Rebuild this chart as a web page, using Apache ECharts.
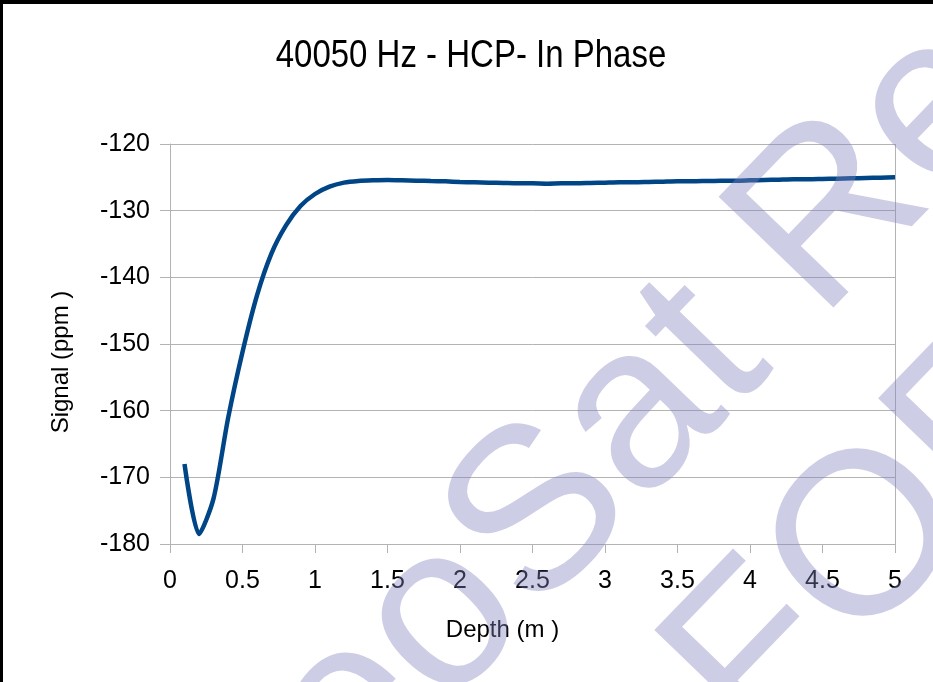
<!DOCTYPE html>
<html>
<head>
<meta charset="utf-8">
<script src="https://cdn.jsdelivr.net/npm/echarts@6/dist/echarts.min.js"></script>
<style>
  html, body { margin: 0; padding: 0; background: #fff; }
  #chart { width: 933px; height: 682px; }
</style>
</head>
<body>
<div id="chart"></div>
<script>
// depth (m) and in-phase signal (ppm)
var depth = [0.1, 0.2, 0.3, 0.4, 0.5, 0.6, 0.7, 0.8, 0.9, 1.0,
  1.1, 1.2, 1.3, 1.4, 1.5, 1.6, 1.7, 1.8, 1.9, 2.0,
  2.1, 2.2, 2.3, 2.4, 2.5, 2.6, 2.7, 2.8, 2.9, 3.0,
  3.1, 3.2, 3.3, 3.4, 3.5, 3.6, 3.7, 3.8, 3.9, 4.0,
  4.1, 4.2, 4.3, 4.4, 4.5, 4.6, 4.7, 4.8, 4.9, 5.0]
var signal = [-168.0, -178.5, -173.2, -161.2, -151.2, -142.7, -136.4, -132.2, -129.3, -127.5,
  -126.4, -125.8, -125.55, -125.45, -125.4, -125.45, -125.5, -125.55, -125.6, -125.7,
  -125.75, -125.8, -125.85, -125.9, -125.9, -125.95, -125.9, -125.9, -125.85, -125.8,
  -125.75, -125.75, -125.7, -125.65, -125.6, -125.6, -125.55, -125.5, -125.5, -125.45,
  -125.4, -125.35, -125.3, -125.3, -125.25, -125.2, -125.15, -125.1, -125.05, -125.0]
var titleText = '40050 Hz - HCP- In Phase'
var xName = 'Depth (m )'
var yName = 'Signal (ppm )'
var watermark = ['GeoSat Re', 'FOR REVIEW']

var chart = echarts.init(document.getElementById('chart'))
var gridColor = '#b3b3b3'
var font = 'Liberation Sans, Arial, sans-serif'
var wmFill = 'rgba(130,130,190,0.4)'
var wmAngle = 46 * Math.PI / 180
var wmFont = '232px Liberation Sans'

chart.setOption({
  backgroundColor: '#fff',
  animation: false,
  grid: {
    left: 170,
    right: 38,
    top: 144,
    bottom: 138
  },
  xAxis: {
    type: 'value',
    min: 0,
    max: 5,
    interval: 0.5,
    name: xName,
    nameLocation: 'middle',
    nameGap: 74,
    nameTextStyle: { fontFamily: font, fontSize: 24, color: '#000', padding: [0, 60, 0, 0] },
    axisLine: { show: true, lineStyle: { color: gridColor, width: 1 } },
    axisTick: { show: true, length: 9, lineStyle: { color: gridColor } },
    axisLabel: { margin: 25, fontFamily: font, fontSize: 25, color: '#000' },
    splitLine: { show: false }
  },
  yAxis: {
    type: 'value',
    min: -180,
    max: -120,
    interval: 10,
    name: yName,
    nameLocation: 'middle',
    nameGap: 97,
    nameTextStyle: { fontFamily: font, fontSize: 24, color: '#000', padding: [0, 36, 0, 0] },
    axisLine: { show: true, lineStyle: { color: gridColor, width: 1 } },
    axisTick: { show: true, length: 10, lineStyle: { color: gridColor } },
    axisLabel: { margin: 20, fontFamily: font, fontSize: 25, color: '#000' },
    splitLine: { show: true, lineStyle: { color: gridColor, width: 1 } }
  },
  series: [{
    type: 'line',
    data: depth.map(function (d, i) { return [d, signal[i]] }),
    smooth: 0.25,
    showSymbol: false,
    lineStyle: { color: '#004586', width: 4.5 },
    z: 3
  }],
  graphic: [
    // title, a bit condensed like the original
    {
      type: 'text',
      x: 471,
      y: 56,
      scaleX: 0.846,
      z: 50,
      style: {
        text: titleText,
        font: '39px Liberation Sans',
        fill: '#000',
        align: 'center',
        verticalAlign: 'middle'
      }
    },
    // right border of the plot area
    {
      type: 'line',
      shape: { x1: 895.5, y1: 144, x2: 895.5, y2: 544 },
      style: { stroke: gridColor, lineWidth: 1 },
      z: 1
    },
    // watermark, semi transparent over everything
    {
      type: 'text',
      x: 183,
      y: 889,
      rotation: wmAngle,
      z: 100,
      style: {
        text: watermark[0],
        font: wmFont,
        fill: wmFill,
        align: 'left',
        verticalAlign: 'middle'
      }
    },
    {
      type: 'text',
      x: 710,
      y: 710,
      rotation: wmAngle,
      z: 100,
      style: {
        text: watermark[1],
        font: wmFont,
        fill: wmFill,
        align: 'left',
        verticalAlign: 'middle'
      }
    },
    // black frame at top and left
    { type: 'rect', shape: { x: 0, y: 0, width: 933, height: 4 }, style: { fill: '#000' }, z: 110 },
    { type: 'rect', shape: { x: 0, y: 0, width: 3, height: 682 }, style: { fill: '#000' }, z: 110 }
  ]
})
</script>
</body>
</html>
